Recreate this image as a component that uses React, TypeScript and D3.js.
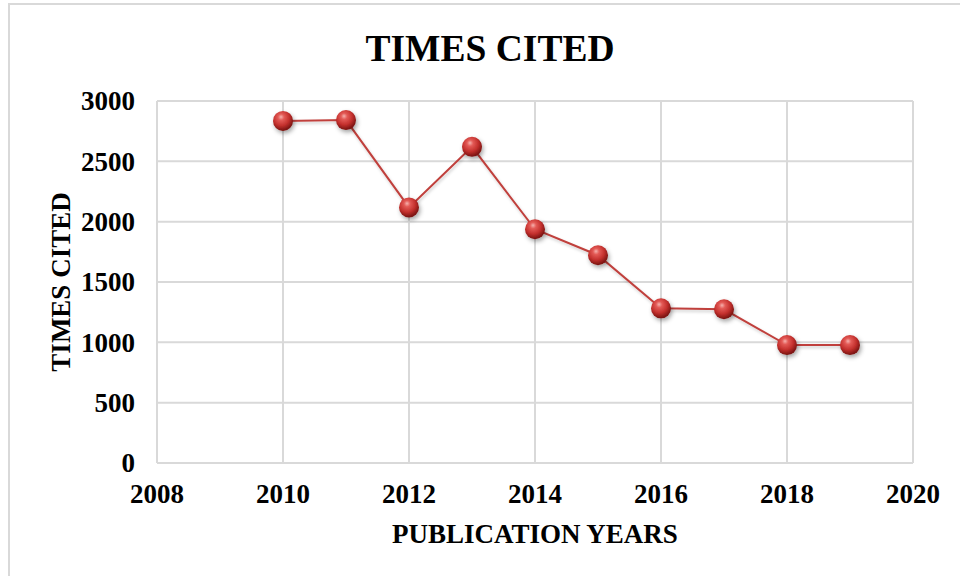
import React from "react";
import * as d3 from "d3";

// Citation counts per publication year
const years = [2010, 2011, 2012, 2013, 2014, 2015, 2016, 2017, 2018, 2019];
const timesCited = [2835, 2842, 2118, 2620, 1937, 1722, 1282, 1274, 977, 977];
const xTicks = [2008, 2010, 2012, 2014, 2016, 2018, 2020];
const yTicks = [0, 500, 1000, 1500, 2000, 2500, 3000];

const W = 960;
const H = 576;
const plot = { left: 157, right: 913, top: 101, bottom: 463 };
const FONT = "'Liberation Serif', 'Times New Roman', serif";

export default function App() {
  const x = d3.scaleLinear().domain([2008, 2020]).range([plot.left, plot.right]);
  const y = d3.scaleLinear().domain([0, 3000]).range([plot.bottom, plot.top]);
  const points = years.map((yr, i) => [x(yr), y(timesCited[i])] as [number, number]);
  const linePath = d3.line()(points) || "";

  return (
    <svg
      width={W}
      height={H}
      style={{ position: "absolute", left: 0, top: 0, background: "#fff" }}
    >
      <defs>
        <radialGradient id="sphere" cx="42%" cy="35%" r="62%" fx="40%" fy="30%">
          <stop offset="0%" stopColor="#f6b1ad" />
          <stop offset="25%" stopColor="#e35a56" />
          <stop offset="65%" stopColor="#c3302d" />
          <stop offset="100%" stopColor="#7d1513" />
        </radialGradient>
        <filter id="shadow" x="-50%" y="-50%" width="200%" height="200%">
          <feDropShadow dx="1.5" dy="2.5" stdDeviation="2" floodColor="#000" floodOpacity="0.35" />
        </filter>
        <filter id="lineShadow" x="-10%" y="-10%" width="120%" height="120%">
          <feDropShadow dx="1" dy="2" stdDeviation="1.5" floodColor="#000" floodOpacity="0.2" />
        </filter>
      </defs>

      {/* chart frame */}
      <rect x={9} y={4} width={W + 20} height={H + 20} fill="#fff" stroke="#d9d9d9" strokeWidth={2} />

      {/* title */}
      <text
        x={490}
        y={61}
        textAnchor="middle"
        fontFamily={FONT}
        fontWeight="bold"
        fontSize={37.5}
        fill="#000"
      >
        TIMES CITED
      </text>

      {/* gridlines */}
      <g stroke="#d9d9d9" strokeWidth={2}>
        {yTicks.map((t) => (
          <line key={"h" + t} x1={plot.left} x2={plot.right} y1={y(t)} y2={y(t)} />
        ))}
        {xTicks.map((t) => (
          <line key={"v" + t} x1={x(t)} x2={x(t)} y1={plot.top} y2={plot.bottom} />
        ))}
      </g>

      {/* tick labels */}
      <g fontFamily={FONT} fontWeight="bold" fontSize={27} fill="#000">
        {yTicks.map((t) => (
          <text key={"yl" + t} x={135} y={y(t)} dy="0.35em" textAnchor="end">
            {t}
          </text>
        ))}
        {xTicks.map((t) => (
          <text key={"xl" + t} x={x(t)} y={503} textAnchor="middle">
            {t}
          </text>
        ))}
      </g>

      {/* axis titles */}
      <text
        x={535}
        y={543}
        textAnchor="middle"
        fontFamily={FONT}
        fontWeight="bold"
        fontSize={27}
        fill="#000"
      >
        PUBLICATION YEARS
      </text>
      <text
        transform={`translate(70, ${(plot.top + plot.bottom) / 2}) rotate(-90)`}
        textAnchor="middle"
        fontFamily={FONT}
        fontWeight="bold"
        fontSize={27}
        fill="#000"
      >
        TIMES CITED
      </text>

      {/* series line */}
      <path d={linePath} fill="none" stroke="#c0403c" strokeWidth={2} filter="url(#lineShadow)" />

      {/* sphere markers */}
      <g filter="url(#shadow)">
        {points.map(([px, py], i) => (
          <circle key={years[i]} cx={px} cy={py} r={10} fill="url(#sphere)" />
        ))}
      </g>
    </svg>
  );
}
